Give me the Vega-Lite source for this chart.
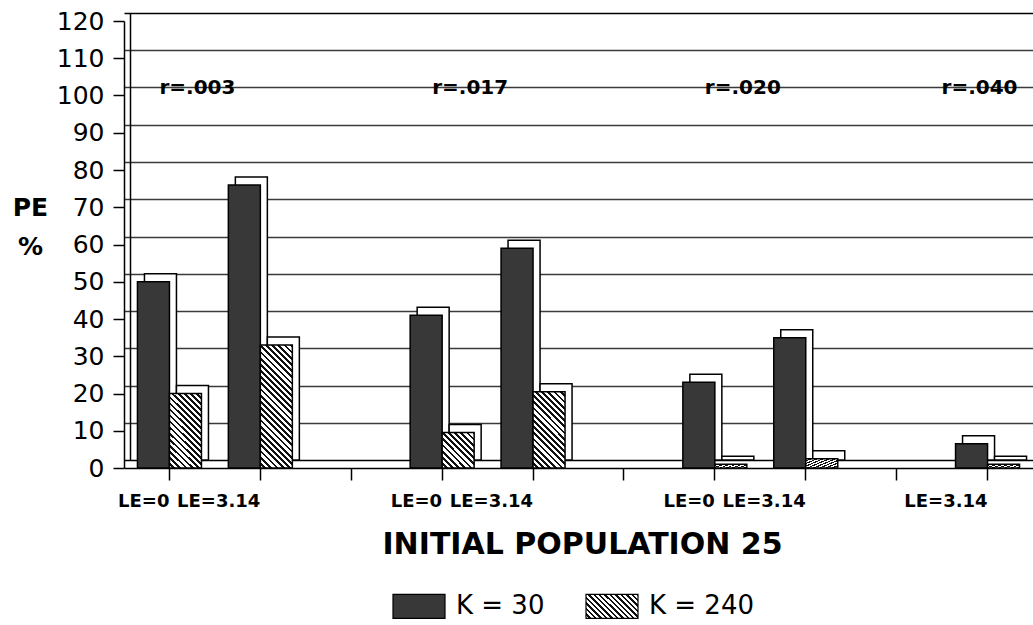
{
  "$schema": "https://vega.github.io/schema/vega-lite/v6.json",
  "width": 909,
  "height": 447,
  "autosize": {"type": "none"},
  "padding": {"left": 124, "top": 21, "right": 0, "bottom": 157},
  "background": "white",
  "config": {"view": {"stroke": null}, "font": "DejaVu Sans"},
  "datasets": {
    "bars": [
      {"r": "r=.003", "LE": "LE=0", "slot": "r=.003 LE=0", "K": "K = 30", "PE": 50},
      {"r": "r=.003", "LE": "LE=0", "slot": "r=.003 LE=0", "K": "K = 240", "PE": 20},
      {"r": "r=.003", "LE": "LE=3.14", "slot": "r=.003 LE=3.14", "K": "K = 30", "PE": 76},
      {"r": "r=.003", "LE": "LE=3.14", "slot": "r=.003 LE=3.14", "K": "K = 240", "PE": 33},
      {"r": "r=.017", "LE": "LE=0", "slot": "r=.017 LE=0", "K": "K = 30", "PE": 41},
      {"r": "r=.017", "LE": "LE=0", "slot": "r=.017 LE=0", "K": "K = 240", "PE": 9.5},
      {"r": "r=.017", "LE": "LE=3.14", "slot": "r=.017 LE=3.14", "K": "K = 30", "PE": 59},
      {"r": "r=.017", "LE": "LE=3.14", "slot": "r=.017 LE=3.14", "K": "K = 240", "PE": 20.5},
      {"r": "r=.020", "LE": "LE=0", "slot": "r=.020 LE=0", "K": "K = 30", "PE": 23},
      {"r": "r=.020", "LE": "LE=0", "slot": "r=.020 LE=0", "K": "K = 240", "PE": 1},
      {"r": "r=.020", "LE": "LE=3.14", "slot": "r=.020 LE=3.14", "K": "K = 30", "PE": 35},
      {"r": "r=.020", "LE": "LE=3.14", "slot": "r=.020 LE=3.14", "K": "K = 240", "PE": 2.5},
      {"r": "r=.040", "LE": "LE=3.14", "slot": "r=.040 LE=3.14", "K": "K = 30", "PE": 6.5},
      {"r": "r=.040", "LE": "LE=3.14", "slot": "r=.040 LE=3.14", "K": "K = 240", "PE": 1}
    ],
    "rlabels": [
      {"slot": "r=.003 LE=0", "label": "r=.003"},
      {"slot": "r=.017 LE=0", "label": "r=.017"},
      {"slot": "r=.020 LE=0", "label": "r=.020"},
      {"slot": "r=.040 LE=3.14", "label": "r=.040"}
    ]
  },
  "layer": [
    {
      "data": {"name": "bars"},
      "mark": {"type": "bar", "fill": "white", "stroke": "black", "strokeWidth": 1.5},
      "encoding": {
        "x": {"field": "slot", "type": "nominal", "scale": {"domain": ["r=.003 LE=0", "r=.003 LE=3.14", "gap 1", "r=.017 LE=0", "r=.017 LE=3.14", "gap 2", "r=.020 LE=0", "r=.020 LE=3.14", "gap 3", "r=.040 LE=3.14"], "paddingInner": 0.296, "paddingOuter": 0.148}},
        "xOffset": {"field": "K", "type": "nominal", "scale": {"domain": ["K = 30", "K = 240"], "range": [7, 71]}},
        "y": {"field": "PE", "type": "quantitative", "scale": {"domain": [0, 120], "range": [439, -8]},
          "axis": {"orient": "left", "offset": -6, "domain": true, "domainColor": "black", "domainWidth": 1.5, "ticks": false, "labels": false, "title": null, "grid": true,
            "gridColor": {"condition": {"test": "datum.value === 0 || datum.value === 120", "value": "black"}, "value": "#3a3a3a"},
            "gridWidth": 1.5, "values": [0, 10, 20, 30, 40, 50, 60, 70, 80, 90, 100, 110, 120]}}
      }
    },
    {
      "data": {"name": "bars"},
      "mark": {"type": "bar", "opacity": 0},
      "encoding": {
        "x": {"field": "slot", "type": "nominal"},
        "xOffset": {"field": "K", "type": "nominal", "scale": {"domain": ["K = 30", "K = 240"]}},
        "y": {"field": "PE", "type": "quantitative", "scale": {"domain": [0, 120]}, "axis": null},
        "fill": {"field": "K", "type": "nominal",
          "scale": {"domain": ["K = 30", "K = 240"], "range": [
            {"expr": "'#383838'"},
            {"expr": "{gradient: 'linear', x1: 0, y1: 1, x2: 2.17, y2: 0, stops: [{offset: 0, color: '#fff'}, {offset: 0.022, color: '#fff'}, {offset: 0.022, color: '#111'}, {offset: 0.04, color: '#111'}, {offset: 0.04, color: '#fff'}, {offset: 0.062, color: '#fff'}, {offset: 0.062, color: '#111'}, {offset: 0.08, color: '#111'}, {offset: 0.08, color: '#fff'}, {offset: 0.102, color: '#fff'}, {offset: 0.102, color: '#111'}, {offset: 0.12, color: '#111'}, {offset: 0.12, color: '#fff'}, {offset: 0.142, color: '#fff'}, {offset: 0.142, color: '#111'}, {offset: 0.16, color: '#111'}, {offset: 0.16, color: '#fff'}, {offset: 0.182, color: '#fff'}, {offset: 0.182, color: '#111'}, {offset: 0.2, color: '#111'}, {offset: 0.2, color: '#fff'}, {offset: 0.222, color: '#fff'}, {offset: 0.222, color: '#111'}, {offset: 0.24, color: '#111'}, {offset: 0.24, color: '#fff'}, {offset: 0.262, color: '#fff'}, {offset: 0.262, color: '#111'}, {offset: 0.28, color: '#111'}, {offset: 0.28, color: '#fff'}, {offset: 0.302, color: '#fff'}, {offset: 0.302, color: '#111'}, {offset: 0.32, color: '#111'}, {offset: 0.32, color: '#fff'}, {offset: 0.342, color: '#fff'}, {offset: 0.342, color: '#111'}, {offset: 0.36, color: '#111'}, {offset: 0.36, color: '#fff'}, {offset: 0.382, color: '#fff'}, {offset: 0.382, color: '#111'}, {offset: 0.4, color: '#111'}, {offset: 0.4, color: '#fff'}, {offset: 0.422, color: '#fff'}, {offset: 0.422, color: '#111'}, {offset: 0.44, color: '#111'}, {offset: 0.44, color: '#fff'}, {offset: 0.462, color: '#fff'}, {offset: 0.462, color: '#111'}, {offset: 0.48, color: '#111'}, {offset: 0.48, color: '#fff'}, {offset: 0.502, color: '#fff'}, {offset: 0.502, color: '#111'}, {offset: 0.52, color: '#111'}, {offset: 0.52, color: '#fff'}, {offset: 0.542, color: '#fff'}, {offset: 0.542, color: '#111'}, {offset: 0.56, color: '#111'}, {offset: 0.56, color: '#fff'}, {offset: 0.582, color: '#fff'}, {offset: 0.582, color: '#111'}, {offset: 0.6, color: '#111'}]}"}
          ]},
          "legend": {"orient": "none", "legendX": 268, "legendY": 558, "direction": "horizontal", "title": null, "padding": 0,
            "symbolType": "M-1,-0.46H1V0.46H-1Z", "symbolSize": 2704, "symbolStrokeColor": "black", "symbolStrokeWidth": 1.2, "symbolOpacity": 1,
            "labelFont": "DejaVu Sans", "labelFontSize": 26, "labelColor": "black", "labelOffset": 10, "labelLimit": 300, "columnPadding": 38}}
      }
    },
    {
      "data": {"name": "bars"},
      "mark": {"type": "bar", "stroke": "black", "strokeWidth": 1.5},
      "encoding": {
        "x": {"field": "slot", "type": "nominal", "scale": {"domain": ["r=.003 LE=0", "r=.003 LE=3.14", "gap 1", "r=.017 LE=0", "r=.017 LE=3.14", "gap 2", "r=.020 LE=0", "r=.020 LE=3.14", "gap 3", "r=.040 LE=3.14"], "paddingInner": 0.296, "paddingOuter": 0.148},
          "axis": {"orient": "bottom", "domainColor": "black", "domainWidth": 1.5, "tickColor": "black", "tickWidth": 1.5, "tickSize": 12,
            "labelExpr": "indexof(datum.value, 'LE=3.14') >= 0 ? 'LE=3.14' : indexof(datum.value, 'LE=0') >= 0 ? 'LE=0' : ''",
            "labelFont": "DejaVu Sans", "labelFontWeight": "bold", "labelFontSize": 18, "labelColor": "black", "labelPadding": 21, "labelAngle": 0, "labelOverlap": false,
            "title": "INITIAL POPULATION 25", "titleFont": "DejaVu Sans", "titleFontSize": 30, "titleFontWeight": "bold", "titleColor": "black",
            "titleX": 458, "titleY": 85, "titleBaseline": "alphabetic", "titleAlign": "center"}},
        "xOffset": {"field": "K", "type": "nominal", "scale": {"domain": ["K = 30", "K = 240"]}},
        "y": {"field": "PE", "type": "quantitative", "scale": {"domain": [0, 120]},
          "axis": {"orient": "left", "values": [0, 10, 20, 30, 40, 50, 60, 70, 80, 90, 100, 110, 120], "grid": false, "labelOverlap": false, "labelSeparation": -50, "labelFlush": false,
            "domainColor": "black", "domainWidth": 1.5, "tickColor": "black", "tickWidth": 1.5, "tickSize": 11,
            "labelFont": "DejaVu Sans", "labelFontSize": 25, "labelColor": "black", "labelPadding": 9,
            "title": ["PE", "%"], "titleFont": "DejaVu Sans", "titleFontSize": 25, "titleFontWeight": "bold", "titleColor": "black",
            "titleAngle": 0, "titleX": -94, "titleY": 186, "titleAlign": "center", "titleBaseline": "middle", "titleLineHeight": 39}},
        "fill": {
          "condition": [
            {"test": "datum.K === 'K = 240' && datum.PE >= 28", "value": {"gradient": "linear", "x1": 0, "y1": 1, "x2": 0.307, "y2": -0.179, "stops": [{"offset":0,"color":"#fff"},{"offset":0.022,"color":"#fff"},{"offset":0.022,"color":"#111"},{"offset":0.04,"color":"#111"},{"offset":0.04,"color":"#fff"},{"offset":0.062,"color":"#fff"},{"offset":0.062,"color":"#111"},{"offset":0.08,"color":"#111"},{"offset":0.08,"color":"#fff"},{"offset":0.102,"color":"#fff"},{"offset":0.102,"color":"#111"},{"offset":0.12,"color":"#111"},{"offset":0.12,"color":"#fff"},{"offset":0.142,"color":"#fff"},{"offset":0.142,"color":"#111"},{"offset":0.16,"color":"#111"},{"offset":0.16,"color":"#fff"},{"offset":0.182,"color":"#fff"},{"offset":0.182,"color":"#111"},{"offset":0.2,"color":"#111"},{"offset":0.2,"color":"#fff"},{"offset":0.222,"color":"#fff"},{"offset":0.222,"color":"#111"},{"offset":0.24,"color":"#111"},{"offset":0.24,"color":"#fff"},{"offset":0.262,"color":"#fff"},{"offset":0.262,"color":"#111"},{"offset":0.28,"color":"#111"},{"offset":0.28,"color":"#fff"},{"offset":0.302,"color":"#fff"},{"offset":0.302,"color":"#111"},{"offset":0.32,"color":"#111"},{"offset":0.32,"color":"#fff"},{"offset":0.342,"color":"#fff"},{"offset":0.342,"color":"#111"},{"offset":0.36,"color":"#111"},{"offset":0.36,"color":"#fff"},{"offset":0.382,"color":"#fff"},{"offset":0.382,"color":"#111"},{"offset":0.4,"color":"#111"},{"offset":0.4,"color":"#fff"},{"offset":0.422,"color":"#fff"},{"offset":0.422,"color":"#111"},{"offset":0.44,"color":"#111"},{"offset":0.44,"color":"#fff"},{"offset":0.462,"color":"#fff"},{"offset":0.462,"color":"#111"},{"offset":0.48,"color":"#111"},{"offset":0.48,"color":"#fff"},{"offset":0.502,"color":"#fff"},{"offset":0.502,"color":"#111"},{"offset":0.52,"color":"#111"},{"offset":0.52,"color":"#fff"},{"offset":0.542,"color":"#fff"},{"offset":0.542,"color":"#111"},{"offset":0.56,"color":"#111"},{"offset":0.56,"color":"#fff"},{"offset":0.582,"color":"#fff"},{"offset":0.582,"color":"#111"},{"offset":0.6,"color":"#111"},{"offset":0.6,"color":"#fff"},{"offset":0.622,"color":"#fff"},{"offset":0.622,"color":"#111"},{"offset":0.64,"color":"#111"},{"offset":0.64,"color":"#fff"},{"offset":0.662,"color":"#fff"},{"offset":0.662,"color":"#111"},{"offset":0.68,"color":"#111"},{"offset":0.68,"color":"#fff"},{"offset":0.702,"color":"#fff"},{"offset":0.702,"color":"#111"},{"offset":0.72,"color":"#111"},{"offset":0.72,"color":"#fff"},{"offset":0.742,"color":"#fff"},{"offset":0.742,"color":"#111"},{"offset":0.76,"color":"#111"},{"offset":0.76,"color":"#fff"},{"offset":0.782,"color":"#fff"},{"offset":0.782,"color":"#111"},{"offset":0.8,"color":"#111"},{"offset":0.8,"color":"#fff"},{"offset":0.822,"color":"#fff"},{"offset":0.822,"color":"#111"},{"offset":0.84,"color":"#111"},{"offset":0.84,"color":"#fff"},{"offset":0.862,"color":"#fff"},{"offset":0.862,"color":"#111"},{"offset":0.88,"color":"#111"},{"offset":0.88,"color":"#fff"},{"offset":0.902,"color":"#fff"},{"offset":0.902,"color":"#111"},{"offset":0.92,"color":"#111"},{"offset":0.92,"color":"#fff"},{"offset":0.942,"color":"#fff"},{"offset":0.942,"color":"#111"},{"offset":0.96,"color":"#111"},{"offset":0.96,"color":"#fff"},{"offset":0.982,"color":"#fff"},{"offset":0.982,"color":"#111"},{"offset":1,"color":"#111"}]}},
            {"test": "datum.K === 'K = 240' && datum.PE >= 15", "value": {"gradient": "linear", "x1": 0, "y1": 1, "x2": 0.724, "y2": -0.72, "stops": [{"offset":0,"color":"#fff"},{"offset":0.022,"color":"#fff"},{"offset":0.022,"color":"#111"},{"offset":0.04,"color":"#111"},{"offset":0.04,"color":"#fff"},{"offset":0.062,"color":"#fff"},{"offset":0.062,"color":"#111"},{"offset":0.08,"color":"#111"},{"offset":0.08,"color":"#fff"},{"offset":0.102,"color":"#fff"},{"offset":0.102,"color":"#111"},{"offset":0.12,"color":"#111"},{"offset":0.12,"color":"#fff"},{"offset":0.142,"color":"#fff"},{"offset":0.142,"color":"#111"},{"offset":0.16,"color":"#111"},{"offset":0.16,"color":"#fff"},{"offset":0.182,"color":"#fff"},{"offset":0.182,"color":"#111"},{"offset":0.2,"color":"#111"},{"offset":0.2,"color":"#fff"},{"offset":0.222,"color":"#fff"},{"offset":0.222,"color":"#111"},{"offset":0.24,"color":"#111"},{"offset":0.24,"color":"#fff"},{"offset":0.262,"color":"#fff"},{"offset":0.262,"color":"#111"},{"offset":0.28,"color":"#111"},{"offset":0.28,"color":"#fff"},{"offset":0.302,"color":"#fff"},{"offset":0.302,"color":"#111"},{"offset":0.32,"color":"#111"},{"offset":0.32,"color":"#fff"},{"offset":0.342,"color":"#fff"},{"offset":0.342,"color":"#111"},{"offset":0.36,"color":"#111"},{"offset":0.36,"color":"#fff"},{"offset":0.382,"color":"#fff"},{"offset":0.382,"color":"#111"},{"offset":0.4,"color":"#111"},{"offset":0.4,"color":"#fff"},{"offset":0.422,"color":"#fff"},{"offset":0.422,"color":"#111"},{"offset":0.44,"color":"#111"},{"offset":0.44,"color":"#fff"},{"offset":0.462,"color":"#fff"},{"offset":0.462,"color":"#111"},{"offset":0.48,"color":"#111"},{"offset":0.48,"color":"#fff"},{"offset":0.502,"color":"#fff"},{"offset":0.502,"color":"#111"},{"offset":0.52,"color":"#111"},{"offset":0.52,"color":"#fff"},{"offset":0.542,"color":"#fff"},{"offset":0.542,"color":"#111"},{"offset":0.56,"color":"#111"},{"offset":0.56,"color":"#fff"},{"offset":0.582,"color":"#fff"},{"offset":0.582,"color":"#111"},{"offset":0.6,"color":"#111"},{"offset":0.6,"color":"#fff"},{"offset":0.622,"color":"#fff"},{"offset":0.622,"color":"#111"},{"offset":0.64,"color":"#111"},{"offset":0.64,"color":"#fff"},{"offset":0.662,"color":"#fff"},{"offset":0.662,"color":"#111"},{"offset":0.68,"color":"#111"},{"offset":0.68,"color":"#fff"},{"offset":0.702,"color":"#fff"},{"offset":0.702,"color":"#111"},{"offset":0.72,"color":"#111"}]}},
            {"test": "datum.K === 'K = 240'", "value": {"gradient": "linear", "x1": 0, "y1": 1, "x2": 2.175, "y2": -1.39, "stops": [{"offset":0,"color":"#fff"},{"offset":0.022,"color":"#fff"},{"offset":0.022,"color":"#111"},{"offset":0.04,"color":"#111"},{"offset":0.04,"color":"#fff"},{"offset":0.062,"color":"#fff"},{"offset":0.062,"color":"#111"},{"offset":0.08,"color":"#111"},{"offset":0.08,"color":"#fff"},{"offset":0.102,"color":"#fff"},{"offset":0.102,"color":"#111"},{"offset":0.12,"color":"#111"},{"offset":0.12,"color":"#fff"},{"offset":0.142,"color":"#fff"},{"offset":0.142,"color":"#111"},{"offset":0.16,"color":"#111"},{"offset":0.16,"color":"#fff"},{"offset":0.182,"color":"#fff"},{"offset":0.182,"color":"#111"},{"offset":0.2,"color":"#111"},{"offset":0.2,"color":"#fff"},{"offset":0.222,"color":"#fff"},{"offset":0.222,"color":"#111"},{"offset":0.24,"color":"#111"},{"offset":0.24,"color":"#fff"},{"offset":0.262,"color":"#fff"},{"offset":0.262,"color":"#111"},{"offset":0.28,"color":"#111"},{"offset":0.28,"color":"#fff"},{"offset":0.302,"color":"#fff"},{"offset":0.302,"color":"#111"},{"offset":0.32,"color":"#111"},{"offset":0.32,"color":"#fff"},{"offset":0.342,"color":"#fff"},{"offset":0.342,"color":"#111"},{"offset":0.36,"color":"#111"},{"offset":0.36,"color":"#fff"},{"offset":0.382,"color":"#fff"},{"offset":0.382,"color":"#111"},{"offset":0.4,"color":"#111"},{"offset":0.4,"color":"#fff"},{"offset":0.422,"color":"#fff"},{"offset":0.422,"color":"#111"},{"offset":0.44,"color":"#111"},{"offset":0.44,"color":"#fff"},{"offset":0.462,"color":"#fff"},{"offset":0.462,"color":"#111"},{"offset":0.48,"color":"#111"}]}}
          ],
          "value": "#383838"
        }
      }
    },
    {
      "data": {"name": "rlabels"},
      "transform": [{"filter": "datum.label !== 'r=.040'"}],
      "mark": {"type": "text", "font": "DejaVu Sans", "fontWeight": "bold", "fontSize": 20, "color": "black", "baseline": "middle", "align": "center", "dx": 28, "dy": -8},
      "encoding": {
        "x": {"field": "slot", "type": "nominal"},
        "y": {"datum": 100, "type": "quantitative", "scale": {"domain": [0, 120]}, "axis": null},
        "text": {"field": "label"}
      }
    },
    {
      "data": {"name": "rlabels"},
      "transform": [{"filter": "datum.label === 'r=.040'"}],
      "mark": {"type": "text", "font": "DejaVu Sans", "fontWeight": "bold", "fontSize": 20, "color": "black", "baseline": "middle", "align": "center", "dx": -8, "dy": -8},
      "encoding": {
        "x": {"field": "slot", "type": "nominal"},
        "y": {"datum": 100, "type": "quantitative", "scale": {"domain": [0, 120]}, "axis": null},
        "text": {"field": "label"}
      }
    }
  ],
  "resolve": {"scale": {"y": "independent", "xOffset": "independent"}}
}
